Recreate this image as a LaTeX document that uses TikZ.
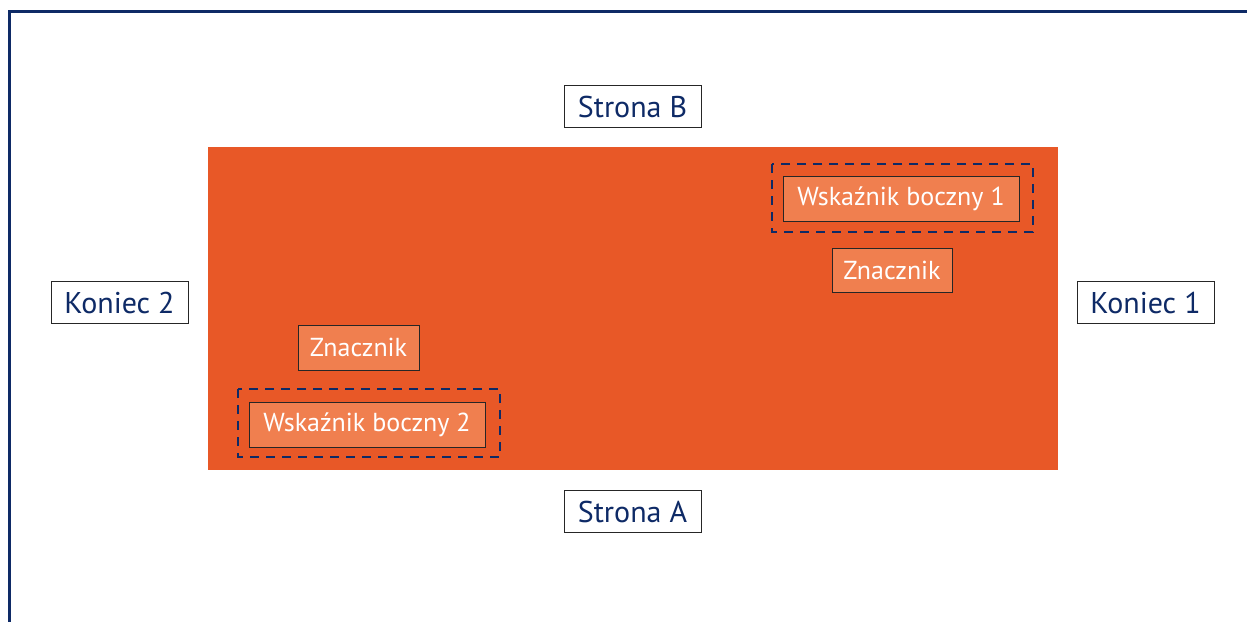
\documentclass[tikz,border=0pt]{standalone}
\usepackage{fontspec}
\setmainfont{PT Sans}
\definecolor{navy}{HTML}{0E2A66}
\definecolor{panel}{HTML}{E85827}
\definecolor{tag}{HTML}{F07F4F}
\tikzset{
  label box/.style={draw=black!85, line width=1pt, fill=white, text=navy,
    minimum width=137pt, minimum height=42pt, inner sep=0pt,
    font=\fontsize{30}{30}\selectfont},
  tag box/.style={draw=black!85, line width=1pt, fill=tag, text=white,
    minimum height=45pt, inner sep=0pt, font=\fontsize{26}{26}\selectfont},
  group box/.style={draw=navy, line width=1.8pt, dash pattern=on 9pt off 7pt}
}
\begin{document}
\begin{tikzpicture}[x=1pt,y=-1pt]
  \useasboundingbox (0,0) rectangle (1247,621);
  % outer frame (top and left edges)
  \draw[navy, line width=3.2pt] (9.5,640) -- (9.5,11.5) -- (1260,11.5);
  % panel
  \fill[panel] (208,147) rectangle (1058,470);
  % side labels
  \node[label box] (sideB) at (632.5,106.5) {Strona B};
  \node[label box] (sideA) at (632.5,511.5) {Strona A};
  \node[label box] (end2) at (119.5,302.5) {Koniec 2};
  \node[label box] (end1) at (1145.5,302.5) {Koniec 1};
  % groups with side indicators
  \draw[group box] (772,164) rectangle (1033,232);
  \node[tag box, minimum width=236pt] (ind1) at (901,198.5) {Wskaźnik boczny 1};
  \node[tag box, minimum width=120pt, minimum height=44pt] (mark1) at (892,270) {Znacznik};
  \draw[group box] (238,389) rectangle (500,457);
  \node[tag box, minimum width=236pt] (ind2) at (367,424.5) {Wskaźnik boczny 2};
  \node[tag box, minimum width=121pt, minimum height=45pt] (mark2) at (358.5,347.5) {Znacznik};
\end{tikzpicture}
\end{document}
